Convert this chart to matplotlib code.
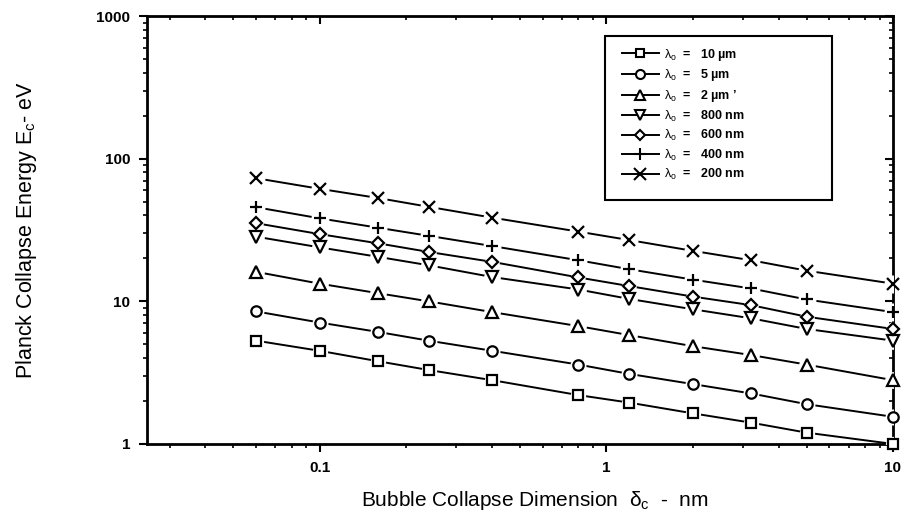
import matplotlib.pyplot as plt
from matplotlib.patches import Rectangle

plt.rcParams['font.family'] = ['Liberation Sans', 'DejaVu Sans']
plt.rcParams['mathtext.fontset'] = 'custom'
plt.rcParams['mathtext.rm'] = 'Liberation Sans'
plt.rcParams['mathtext.it'] = 'Liberation Sans'

# Data
delta = [0.06, 0.1, 0.16, 0.24, 0.4, 0.8, 1.2, 2, 3.2, 5, 10]

e_10um = [5.3, 4.5, 3.8, 3.3, 2.8, 2.2, 1.95, 1.64, 1.41, 1.2, 1.0]
e_5um = [8.5, 7.1, 6.1, 5.3, 4.5, 3.6, 3.1, 2.63, 2.26, 1.9, 1.55]
e_2um = [16.1, 13.3, 11.4, 10.0, 8.4, 6.7, 5.8, 4.85, 4.2, 3.6, 2.8]
e_800nm = [28.4, 23.9, 20.5, 17.9, 14.8, 12.1, 10.4, 8.8, 7.6, 6.4, 5.3]
e_600nm = [35.3, 29.6, 25.5, 22.2, 18.9, 14.7, 12.8, 10.8, 9.4, 7.8, 6.4]
e_400nm = [45.7, 38.2, 32.8, 28.8, 24.4, 19.4, 16.8, 14.2, 12.3, 10.3, 8.4]
e_200nm = [73, 61.5, 53, 46, 38.6, 30.8, 26.9, 22.6, 19.4, 16.4, 13.3]

labels = ['10 µm', '5 µm', '2 µm ʼ', '800 nm', '600 nm', '400 nm', '200 nm']
markers = ['s', 'o', '^', 'v', 'D', '+', 'x']
sizes = [7, 7.5, 8, 8, 6.5, 9, 9]
series = [e_10um, e_5um, e_2um, e_800nm, e_600nm, e_400nm, e_200nm]

fig = plt.figure(figsize=(9.07, 5.26), dpi=100)
ax = fig.add_axes([0.162, 0.156, 0.8225, 0.8135])

handles = []
for vals, m, ms in zip(series, markers, sizes):
    ax.plot(delta, vals, '-', color='black', lw=1.4, zorder=2)
    # white halo so the line stops short of each marker
    ax.plot(delta, vals, 'o', ms=ms + 3, color='white', mec='white', zorder=3)
    ax.plot(delta, vals, marker=m, ms=ms, mfc='white', mec='black',
            mew=1.6, color='black', zorder=4, clip_on=False, linestyle='none')
    handles.append(ax.plot([], [], '-', marker=m, ms=ms - 1, mfc='white',
                           mec='black', mew=1.5, color='black', lw=1.4)[0])

ax.set_xscale('log')
ax.set_yscale('log')
ax.set_xlim(0.025, 10)
ax.set_ylim(1, 1000)

ax.set_xticks([0.1, 1, 10])
ax.set_xticklabels(['0.1', '1', '10'])
ax.set_yticks([1, 10, 100, 1000])
ax.set_yticklabels(['1', '10', '100', '1000'])
for t in ax.get_xticklabels() + ax.get_yticklabels():
    t.set_fontweight('bold')
    t.set_fontsize(11)

for s in ax.spines.values():
    s.set_linewidth(2)
ax.tick_params(which='major', direction='out', length=6, width=1.5, pad=6)
ax.tick_params(which='minor', direction='out', length=3, width=1.2)

top = ax.secondary_xaxis('top', functions=(lambda x: x, lambda x: x))
top.set_xticks([0.1, 1, 10])
top.tick_params(which='major', direction='in', length=6, width=1.5, labeltop=False)
top.tick_params(which='minor', direction='in', length=3, width=1.2)
right = ax.secondary_yaxis('right', functions=(lambda y: y, lambda y: y))
right.set_yticks([1, 10, 100, 1000])
right.tick_params(which='major', direction='in', length=6, width=1.5, labelright=False)
right.tick_params(which='minor', direction='in', length=3, width=1.2)

ax.set_xlabel(r'Bubble Collapse Dimension  $\delta_c$  -  nm', fontsize=15)
ax.set_ylabel(r'Planck Collapse Energy $E_c$- eV', fontsize=15.5)
ax.xaxis.set_label_coords(0.52, -0.105)
ax.yaxis.set_label_coords(-0.145, 0.5)

# legend box
ax.add_patch(Rectangle((0.614, 0.570), 0.304, 0.383, transform=ax.transAxes,
                       fill=False, lw=1.5, color='black', zorder=5))
leg = ax.legend(handles, [r'$\lambda_o$  =   ' + l for l in labels],
                loc='upper left', bbox_to_anchor=(0.628, 0.943),
                frameon=False, handlelength=3.0,
                labelspacing=0.35, borderpad=0, handletextpad=0.4,
                prop={'weight': 'bold', 'size': 9})

plt.savefig('out.png', dpi=100)
